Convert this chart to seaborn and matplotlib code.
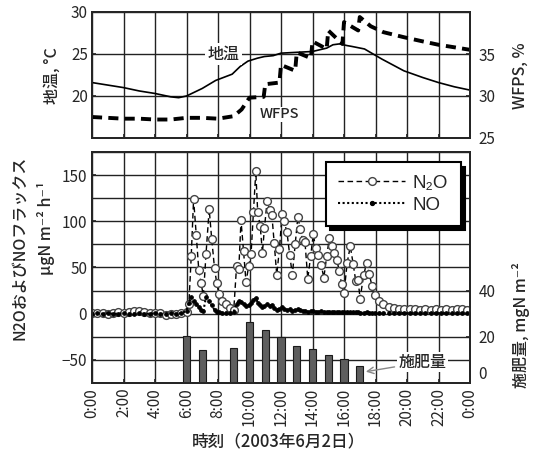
import matplotlib
matplotlib.use('Agg')
import matplotlib.pyplot as plt
import seaborn as sns
from matplotlib.lines import Line2D

# ---------------- data ----------------
temp_h = [0, 1, 2, 3, 4, 5, 5.5, 6, 7, 7.85, 8.9, 9.4, 9.9, 10.5, 10.95, 11.5, 12, 13, 14,
          14.9, 15.3, 15.7, 16.2, 16.5, 17.3, 18.4, 19.8, 21, 22, 23, 24]
temp_c = [21.6, 21.3, 21.0, 20.6, 20.3, 19.9, 19.8, 20.0, 20.9, 21.85, 22.6, 23.5, 24.15, 24.5,
          24.7, 24.8, 25.1, 25.2, 25.3, 25.7, 26.1, 26.2, 26.0, 25.9, 25.6, 24.4, 23.0, 22.2,
          21.6, 21.1, 20.7]

wfps_h = [0, 1, 2, 3, 4, 5, 6, 7, 8, 9.0, 9.5, 10.0, 10.9, 11.0, 11.9, 12.0, 12.9, 13.0, 13.9,
          14.0, 14.9, 15.0, 15.9, 16.0, 16.9, 17.0, 17.7, 18.5, 19.8, 21, 22, 23, 24]
wfps_v = [27.5, 27.4, 27.3, 27.3, 27.2, 27.2, 27.4, 27.4, 27.3, 27.6, 28.4, 29.8, 29.9, 31.4,
          31.6, 33.7, 33.0, 35.2, 34.5, 36.5, 35.6, 37.8, 36.2, 38.8, 37.8, 39.4, 38.3, 37.6,
          37.0, 36.5, 36.1, 35.8, 35.5]

n2o_h = [0, 0.33, 0.67, 1.0, 1.33, 1.67, 2.0, 2.33, 2.67, 3.0, 3.33, 3.67, 4.0, 4.33, 4.67,
         5.0, 5.33, 5.67,
         6.00, 6.15, 6.30, 6.45, 6.62, 6.78, 6.93, 7.07, 7.24, 7.44, 7.60, 7.78, 7.92, 8.06,
         8.27, 8.50, 8.75, 9.00,
         9.18, 9.32, 9.46, 9.62, 9.78, 9.95, 10.10, 10.25, 10.40, 10.52, 10.68, 10.82, 10.95,
         11.12, 11.28, 11.42, 11.57, 11.73, 11.90, 12.07, 12.20, 12.38, 12.55, 12.72, 12.90,
         13.07, 13.22, 13.37, 13.52, 13.70, 13.88, 14.05, 14.20, 14.38, 14.55, 14.72, 14.90,
         15.07, 15.22, 15.38, 15.55, 15.70, 15.85, 16.00, 16.20, 16.40, 16.58, 16.75, 16.90,
         17.02, 17.25, 17.44, 17.60, 17.78, 17.96,
         18.20, 18.50, 18.83, 19.17, 19.50, 19.83, 20.17, 20.50, 20.83, 21.17, 21.50, 21.83,
         22.17, 22.50, 22.83, 23.17, 23.50, 23.83]
n2o_v = [1, 0.5, 1, 0, 0.5, 1.5, 0.5, 2, 3, 3, 2, 1, 1, 0.5, -1, 0, -0.5, 1,
         2, 10, 62, 124, 85, 47, 33, 19, 65, 113, 81, 49, 33, 21, 14, 10, 6, 4,
         52, 48, 101, 68, 34, 52, 65, 110, 154, 110, 95, 66, 93,
         122, 112, 107, 76, 42, 70, 108, 100, 88, 64, 42, 75,
         105, 92, 80, 78, 38, 62, 86, 71, 63, 53, 39, 62,
         82, 73, 66, 58, 46, 32, 22, 55, 73, 54, 35, 36,
         16, 42, 55, 43, 30, 20,
         14, 10, 7, 6, 5.5, 5, 5, 5, 4.5, 5, 4.5, 5, 4.5, 5, 4.5, 5, 5, 4.5]
no_v = [0, 0.5, 0, 0.5, 0, 0, 0.5, 0, 0, 0.5, 0, 0, 0.5, 0, 0, 0.5, 0, 0.5,
        3, 12, 18, 14, 11, 7, 4, 3, 18, 14, 9, 4, 2, 1.5, 1, 1, 1, 2,
        11, 14, 13, 11, 8, 9, 12, 15, 17, 12, 9, 7, 8,
        10, 8, 9, 6, 4, 5, 7, 5, 4, 5, 3, 4,
        5, 4, 3, 3, 2, 3, 3, 2, 2, 2.5, 2, 2,
        2, 2, 1.5, 2, 1.5, 1.5, 1.5, 2, 2, 1.5, 1.5, 1.5,
        1, 1, 1.5, 1, 1, 1,
        1, 1, 1, 0.5, 1, 0.5, 0.5, 0.5, 0.5, 0.5, 0.5, 0.5, 0.5, 0.5, 0.5, 0.5, 0.5, 0.5]

fert_h = [6, 7, 9, 10, 11, 12, 13, 14, 15, 16, 17]
fert_v = [20.4, 14.1, 15.0, 26.6, 23.0, 20.0, 16.1, 14.9, 12.3, 10.2, 7.4]

xtick_h = list(range(0, 25, 2))
xtick_labels = [f"{h % 24}:00" for h in xtick_h]

# ---------------- style ----------------
sns.set_theme(style='white')
plt.rcParams['font.family'] = ['Noto Sans CJK JP', 'DejaVu Sans']
plt.rcParams['axes.linewidth'] = 1.4
CJK = ['Noto Sans CJK JP', 'DejaVu Sans']

fig = plt.figure(figsize=(5.4, 4.65), dpi=100)
L, W = 92 / 540, 378 / 540
ax1 = fig.add_axes([L, 1 - 138 / 465, W, 126 / 465])
ax2 = fig.add_axes([L, 1 - 383 / 465, W, 231 / 465])

grid_kw = dict(color='#222222', linewidth=1.0)
tick_fs = 11

# ---- top panel ----
sns.lineplot(x=temp_h, y=temp_c, ax=ax1, color='black', linewidth=1.2)
ax1.set_xlim(0, 24)
ax1.set_ylim(15, 30)
ax1.set_xticks(xtick_h)
ax1.set_xticklabels([])
ax1.set_yticks([20, 25, 30])
ax1.grid(True, **grid_kw)
ax1.set_axisbelow(True)
ax1.tick_params(axis='both', direction='in', length=3, labelsize=tick_fs, left=True, bottom=True,
                pad=3)
ax1.set_xlabel('')
ax1.set_ylabel('')

ax1r = ax1.twinx()
sns.lineplot(x=wfps_h, y=wfps_v, ax=ax1r, color='black', linewidth=2.8,
             linestyle=(0, (2.6, 1.6)))
ax1r.set_ylim(25, 40)
ax1r.set_yticks([25, 30, 35])
ax1r.tick_params(axis='y', direction='in', length=3, labelsize=tick_fs, right=True, pad=6)
ax1r.set_ylabel('')
ax1r.set_xlim(0, 24)

ax1.text(8.35, 25, '地温', ha='center', va='center', fontsize=11.5, family=CJK,
         fontweight='medium',
         bbox=dict(facecolor='white', edgecolor='none', pad=1.5), zorder=5)
ax1r.text(11.9, 27.8, 'WFPS', ha='center', va='center', fontsize=10.5, zorder=5,
          fontweight='medium',
          bbox=dict(facecolor='white', edgecolor='none', pad=0.5))

# ---- bottom panel ----
sns.lineplot(x=n2o_h, y=n2o_v, ax=ax2, color='black', linewidth=1.0, linestyle=(0, (4, 2.5)),
             marker='o', markersize=5.6, markerfacecolor='white', markeredgecolor='#444444',
             markeredgewidth=1.0, zorder=3)
sns.lineplot(x=n2o_h, y=no_v, ax=ax2, color='black', linewidth=1.5, linestyle=(0, (1, 1.2)),
             marker='o', markersize=2.6, markerfacecolor='black', markeredgecolor='black', zorder=4)
ax2.set_xlim(0, 24)
ax2.set_ylim(-75, 175)
ax2.set_xticks(xtick_h)
ax2.set_xticklabels(xtick_labels, rotation=90)
ax2.set_yticks([-50, 0, 50, 100, 150])
ax2.set_yticks([-75, -25, 25, 75, 125, 175], minor=True)
ax2.grid(True, which='both', axis='y', **grid_kw)
ax2.grid(True, which='major', axis='x', **grid_kw)
ax2.set_axisbelow(True)
ax2.tick_params(axis='both', which='major', direction='in', length=3, labelsize=tick_fs,
                left=True, bottom=True)
ax2.tick_params(axis='y', which='minor', length=0)
ax2.set_xlabel('')
ax2.set_ylabel('')

ax2r = ax2.twinx()
sns.barplot(x=fert_h, y=fert_v, ax=ax2r, native_scale=True, width=0.47, color='#5e5e5e',
            saturation=1, edgecolor='#1a1a1a', linewidth=0.8, errorbar=None)
ax2r.set_ylim(0, 100)
ax2r.set_yticks([0, 20, 40])
ax2r.set_yticklabels(['0', '20', '40'])
ax2r.set_xlim(0, 24)
ax2r.tick_params(axis='y', direction='in', length=3, labelsize=tick_fs, right=True, pad=6)
for lab in ax2r.get_yticklabels():
    lab.set_va('bottom' if lab.get_text() == '0' else 'center_baseline')
ax2r.set_ylabel('')
ax2r.set_xlabel('')

ax2r.annotate('施肥量', xy=(17.3, 4.8), xytext=(21.0, 9.0), ha='center', va='center',
              fontsize=11.5, family=CJK, fontweight='medium',
              bbox=dict(facecolor='white', edgecolor='none', pad=1.0),
              arrowprops=dict(arrowstyle='->', color='#888888', lw=1.0, shrinkA=2, shrinkB=1))

handles = [
    Line2D([0, 0.5, 1], [0, 0, 0], color='black', lw=1.0, linestyle=(0, (4, 2.5)), marker='o',
           markersize=5.6, markerfacecolor='white', markeredgecolor='#444444', markevery=[1]),
    Line2D([0, 0.5, 1], [0, 0, 0], color='black', lw=1.5, linestyle=(0, (1, 1.2)), marker='o',
           markersize=2.8, markerfacecolor='black', markeredgecolor='black', markevery=[1]),
]
leg = ax2r.legend(handles, ['N₂O', 'NO'], loc='upper right', bbox_to_anchor=(0.975, 0.955),
                  frameon=True, fancybox=False, framealpha=1, edgecolor='black',
                  prop={'family': ['Liberation Sans', 'DejaVu Sans'], 'size': 13.5},
                  handlelength=3.6, borderpad=0.65, labelspacing=0.25, handletextpad=0.4,
                  borderaxespad=0.0,
                  shadow={'ox': 3, 'oy': -3, 'facecolor': 'black', 'edgecolor': 'black',
                          'alpha': 1})
leg.get_frame().set_linewidth(1.5)
leg.set_zorder(10)

# ---- labels ----
fig.text(52 / 540, 1 - 76 / 465, '地温, °C', rotation=90, ha='center', va='center',
         fontsize=11.5, family=CJK, fontweight='medium')
fig.text(520 / 540, 1 - 76 / 465, 'WFPS, %', rotation=90, ha='center', va='center',
         fontsize=11.5, fontweight='medium')
fig.text(20 / 540, 1 - 248 / 465, 'N2OおよびNOフラックス', rotation=90, ha='center',
         va='center', fontsize=11.5, family=CJK, fontweight='medium')
fig.text(46 / 540, 1 - 228 / 465, 'μgN m⁻² h⁻¹', rotation=90, ha='center', va='center',
         fontsize=11.5, family=CJK, fontweight='medium')
fig.text(521 / 540, 1 - 325 / 465, '施肥量, mgN m⁻²', rotation=90, ha='center', va='center',
         fontsize=11.5, family=CJK, fontweight='medium')
fig.text(0.515, 1 - 441 / 465, '時刻（2003年6月2日）', ha='center', va='center',
         fontsize=12, family=CJK, fontweight='medium')

fig.savefig('out.png', dpi=100)
